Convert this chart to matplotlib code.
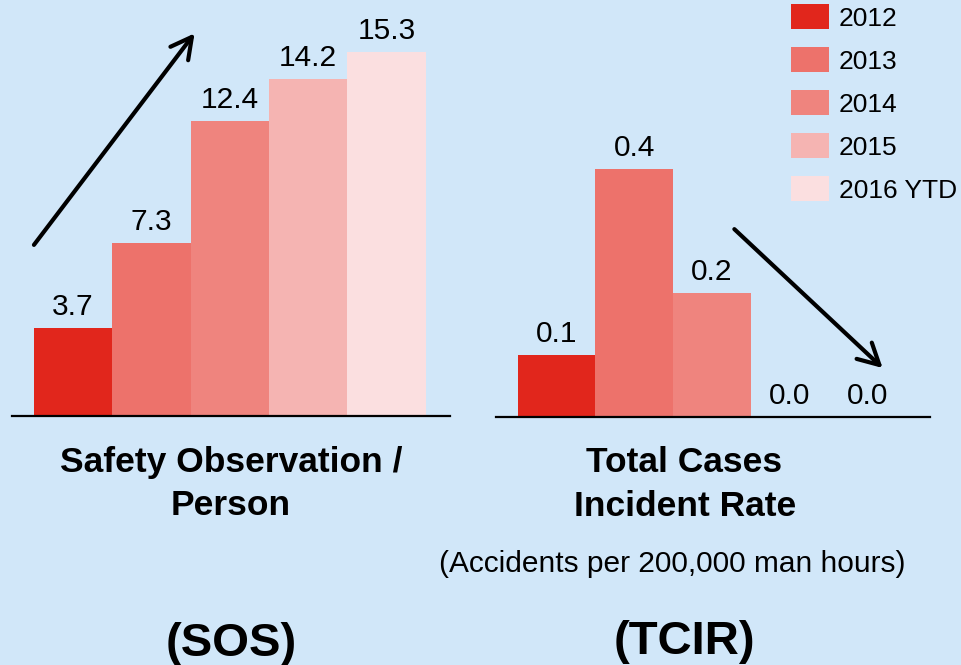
import matplotlib
matplotlib.use('Agg')
import matplotlib.pyplot as plt
from matplotlib.patches import Patch

plt.rcParams['font.family'] = ['Liberation Sans', 'DejaVu Sans']

years = ['2012', '2013', '2014', '2015', '2016 YTD']
sos = [3.7, 7.3, 12.4, 14.2, 15.3]
tcir = [0.1, 0.4, 0.2, 0.0, 0.0]
colors = ['#E1261C', '#ED726B', '#EF847E', '#F5B4B2', '#FBDFE0']
bg = '#D1E7F9'

W, H = 962, 665
fig = plt.figure(figsize=(W/100, H/100), dpi=100, facecolor=bg)

def px_axes(left, right, base, top):
    return fig.add_axes([left/W, 1-base/H, (right-left)/W, (base-top)/H])

ax1 = px_axes(12, 450, 416, 12)
ax2 = px_axes(496, 930, 417, 14)

xs = range(len(years))
for ax, vals, ymax in [(ax1, sos, 17.0), (ax2, tcir, 0.65)]:
    ax.set_facecolor('none')
    bars = ax.bar(xs, vals, width=1.0, color=colors, linewidth=0)
    ax.bar_label(bars, fmt='%.1f', padding=5, fontsize=21.5)
    ax.set_xlim(-0.78, 4.81)
    ax.set_ylim(0, ymax)
    for s in ['top', 'left', 'right']:
        ax.spines[s].set_visible(False)
    ax.spines['bottom'].set_linewidth(1.6)
    ax.set_xticks([])
    ax.set_yticks([])

# trend arrows
arrow = dict(arrowstyle='->, head_length=0.75, head_width=0.4', lw=3,
             color='black', shrinkA=0, shrinkB=0, mutation_scale=20)
ax1.annotate('', xy=(1.55, 16.1), xytext=(-0.5, 7.2), arrowprops=arrow,
             annotation_clip=False)
ax2.annotate('', xy=(4.2, 0.079), xytext=(2.29, 0.303), arrowprops=arrow,
             annotation_clip=False)

handles = [Patch(facecolor=c, edgecolor='none') for c in colors]
fig.legend(handles, years, loc='upper left', bbox_to_anchor=(791/W, 1-4/H),
           frameon=False, fontsize=19, handlelength=1.44, handleheight=1.1,
           handletextpad=0.38, labelspacing=0.62, borderpad=0, borderaxespad=0)

def ftext(x, y, s, **kw):
    fig.text(x/W, 1-y/H, s, ha='center', va='baseline', **kw)

ftext(231, 472, 'Safety Observation /', fontsize=25.5, fontweight='bold')
ftext(231, 515, 'Person', fontsize=25.5, fontweight='bold')
ftext(684, 472, 'Total Cases', fontsize=25.5, fontweight='bold')
ftext(685, 516, 'Incident Rate', fontsize=25.5, fontweight='bold')
ftext(672, 572, '(Accidents per 200,000 man hours)', fontsize=21.5)
ftext(231, 656, '(SOS)', fontsize=34, fontweight='bold')
ftext(684, 654, '(TCIR)', fontsize=34, fontweight='bold')

fig.savefig('out.png', dpi=100, facecolor=bg)
